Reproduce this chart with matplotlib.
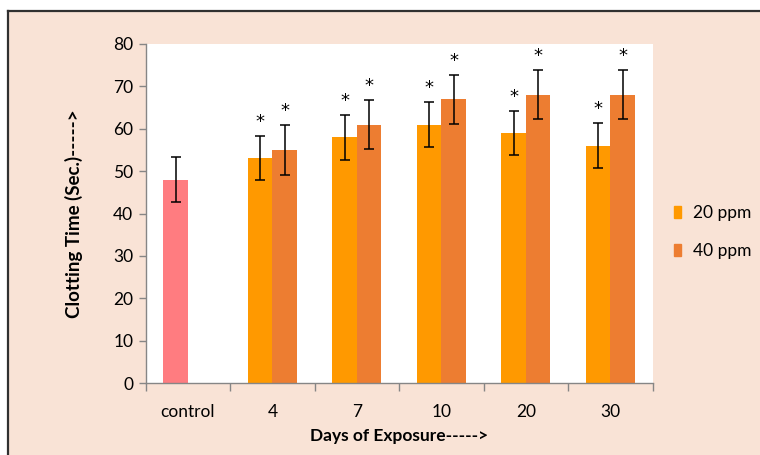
import numpy as np
import matplotlib.pyplot as plt
from matplotlib.lines import Line2D
from matplotlib.patches import Rectangle

# data
days = ["control", "4", "7", "10", "20", "30"]
ppm20 = [48, 53, 58, 61, 59, 56]
ppm20_err = [5.3, 5.2, 5.3, 5.2, 5.3, 5.3]
ppm40 = [None, 55, 61, 67, 68, 68]
ppm40_err = [None, 5.8, 5.7, 5.8, 5.8, 5.8]
star20 = [False, True, True, True, True, True]
star40 = [False, True, True, True, True, True]

c20 = "#FF9900"
c40 = "#ED7D31"
c_ctrl = "#FF7C80"
bg = "#F9E3D6"

plt.rcParams['font.family'] = ['Lato', 'DejaVu Sans']

fig = plt.figure(figsize=(7.6, 4.55), dpi=100, facecolor="white")
# peach panel with left/top border
fig.patches.append(Rectangle((8/760, 0), 1, 1 - 11/455, transform=fig.transFigure,
                             facecolor=bg, edgecolor="none", zorder=-10))
fig.lines.append(Line2D([8/760, 8/760], [0, 1 - 11/455], transform=fig.transFigure,
                        color="#303030", lw=1.6, zorder=-5))
fig.lines.append(Line2D([8/760, 1], [1 - 11/455, 1 - 11/455], transform=fig.transFigure,
                        color="#303030", lw=1.6, zorder=-5))

ax = fig.add_axes([0.1917, 0.1582, 0.8586 - 0.1917, 0.9033 - 0.1582])
ax.set_facecolor("white")

x = np.arange(len(days))
w = 0.29
colors20 = [c_ctrl] + [c20] * (len(days) - 1)
ax.bar(x - w/2, ppm20, width=w, color=colors20, zorder=2)
ax.errorbar(x - w/2, ppm20, yerr=ppm20_err, fmt="none", ecolor="black",
            elinewidth=1.1, capsize=3.6, capthick=1.1, zorder=3)

x40 = [xi + w/2 for xi, v in zip(x, ppm40) if v is not None]
v40 = [v for v in ppm40 if v is not None]
e40 = [e for e in ppm40_err if e is not None]
ax.bar(x40, v40, width=w, color=c40, zorder=2)
ax.errorbar(x40, v40, yerr=e40, fmt="none", ecolor="black",
            elinewidth=1.1, capsize=3.6, capthick=1.1, zorder=3)

for i in range(len(days)):
    if star20[i]:
        ax.text(x[i] - w/2, ppm20[i] + ppm20_err[i] + 3.3, "*", ha="center",
                va="center", fontsize=13, family="DejaVu Sans")
    if star40[i] and ppm40[i] is not None:
        ax.text(x[i] + w/2, ppm40[i] + ppm40_err[i] + 3.3, "*", ha="center",
                va="center", fontsize=13, family="DejaVu Sans")

ax.set_xlim(-0.5, len(days) - 0.5)
ax.set_ylim(0, 80)
ax.set_yticks(range(0, 81, 10))
ax.set_xticks(x)
ax.set_xticklabels(days)
ax.set_xticks(np.arange(-0.5, len(days)), minor=True)
ax.tick_params(axis="x", which="major", length=0, pad=15, labelsize=12.5)
ax.tick_params(axis="x", which="minor", length=6, width=1, color="#868686", direction="out")
ax.tick_params(axis="y", length=5, width=1, color="#868686", labelsize=12.5, pad=4)

for s in ["top", "right"]:
    ax.spines[s].set_visible(False)
for s in ["left", "bottom"]:
    ax.spines[s].set_color("#868686")
    ax.spines[s].set_linewidth(1)

ax.set_xlabel("Days of Exposure----->", fontweight="bold", fontsize=12.5, labelpad=6)
ax.set_ylabel("Clotting Time (Sec.)----->", fontweight="bold", fontsize=13.5, labelpad=22)

handles = [Rectangle((0, 0), 1, 1, color=c20), Rectangle((0, 0), 1, 1, color=c40)]
fig.legend(handles, ["20 ppm", "40 ppm"], loc="center left",
           bbox_to_anchor=(0.887, 0.49), frameon=False, fontsize=12.5,
           borderpad=0, borderaxespad=0,
           handlelength=0.4, handleheight=0.7, handletextpad=0.7, labelspacing=1.3)

fig.savefig("out.png", dpi=100, facecolor=fig.get_facecolor())
